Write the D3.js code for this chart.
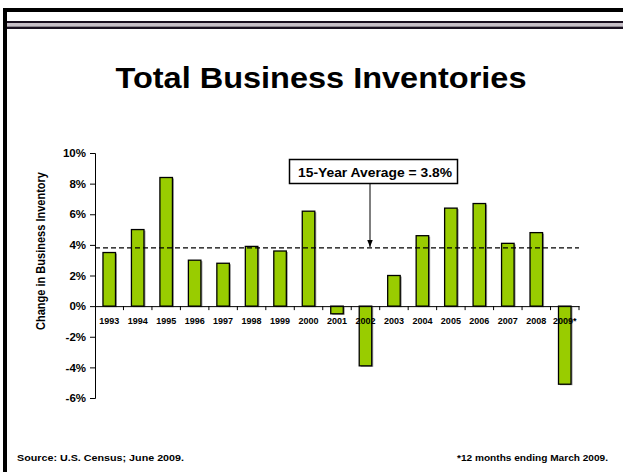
<!DOCTYPE html>
<html>
<head>
<meta charset="utf-8">
<script src="https://cdn.jsdelivr.net/npm/d3@7"></script>
<style>
  html, body { margin: 0; padding: 0; background: #fff; }
  svg { display: block; font-family: "Liberation Sans", Arial, sans-serif; }
</style>
</head>
<body>
<svg id="chart" width="623" height="472"></svg>
<script>
// Annual change in total business inventories, percent
const years = ["1993","1994","1995","1996","1997","1998","1999","2000","2001","2002","2003","2004","2005","2006","2007","2008","2009*"];
const changes = [3.5, 5.0, 8.4, 3.0, 2.8, 3.9, 3.6, 6.2, -0.5, -3.9, 2.0, 4.6, 6.4, 6.7, 4.1, 4.8, -5.1];
const yTicks = [-6, -4, -2, 0, 2, 4, 6, 8, 10];
const average = 3.8;
const averageLabel = "15-Year Average = 3.8%";

const svg = d3.select("#chart");
svg.append("rect").attr("width", 623).attr("height", 472).attr("fill", "#fff");

// slide frame: heavy rule on top and left, double rule beneath
svg.append("rect").attr("x", 3).attr("y", 8).attr("width", 620).attr("height", 4).attr("fill", "#000");
svg.append("rect").attr("x", 3).attr("y", 8).attr("width", 4).attr("height", 464).attr("fill", "#000");
svg.append("rect").attr("x", 7).attr("y", 21).attr("width", 616).attr("height", 2).attr("fill", "#1a1020");
svg.append("rect").attr("x", 7).attr("y", 23).attr("width", 616).attr("height", 3).attr("fill", "#c8c0c8");
svg.append("rect").attr("x", 7).attr("y", 26.5).attr("width", 616).attr("height", 2.5).attr("fill", "#1a1020");

svg.append("text")
  .attr("x", 321).attr("y", 88)
  .attr("text-anchor", "middle")
  .attr("font-size", 29.5).attr("font-weight", "bold")
  .attr("textLength", 411).attr("lengthAdjust", "spacingAndGlyphs")
  .attr("fill", "#000")
  .text("Total Business Inventories");

const x = d3.scaleBand().domain(years).range([95, 579]).paddingInner(0.56).paddingOuter(0.28);
const y = d3.scaleLinear().domain([-6, 10]).range([398, 153]);

// y axis
const yAxis = svg.append("g")
  .attr("transform", "translate(95,0)")
  .call(d3.axisLeft(y).tickValues(yTicks).tickSize(5).tickPadding(4).tickFormat(d => d + "%"));
yAxis.selectAll("text").attr("font-size", 11.5).attr("font-weight", "bold").attr("fill", "#000")
  .attr("font-family", "'Liberation Sans', Arial, sans-serif");
yAxis.selectAll("line, path").attr("stroke", "#000");

svg.append("text")
  .attr("transform", "translate(44.5,251) rotate(-90)")
  .attr("text-anchor", "middle")
  .attr("font-size", 12.5).attr("font-weight", "bold")
  .attr("textLength", 158).attr("lengthAdjust", "spacingAndGlyphs")
  .text("Change in Business Inventory");

// bars with a soft grey drop shadow
const bars = svg.append("g");
bars.selectAll("rect.shadow").data(years).join("rect")
  .attr("class", "shadow")
  .attr("x", d => x(d) + 1.5)
  .attr("y", (d, i) => Math.min(y(changes[i]), y(0)) + 1)
  .attr("width", x.bandwidth())
  .attr("height", (d, i) => Math.abs(y(changes[i]) - y(0)))
  .attr("fill", "#9a9a9a");
bars.selectAll("rect.bar").data(years).join("rect")
  .attr("class", "bar")
  .attr("x", d => x(d))
  .attr("y", (d, i) => Math.min(y(changes[i]), y(0)))
  .attr("width", x.bandwidth())
  .attr("height", (d, i) => Math.abs(y(changes[i]) - y(0)))
  .attr("fill", "#99cc00")
  .attr("stroke", "#000").attr("stroke-width", 1.3);

// x axis at zero with ticks between categories
const xAxis = svg.append("g")
  .attr("transform", `translate(0,${y(0)})`)
  .call(d3.axisBottom(x).tickSize(0).tickPadding(11));
xAxis.select("path").attr("stroke", "#000");
xAxis.selectAll("text").attr("font-size", 9).attr("font-weight", "bold").attr("fill", "#000")
  .attr("font-family", "'Liberation Sans', Arial, sans-serif");
const step = x.step();
xAxis.selectAll("line.sep").data(years).join("line")
  .attr("class", "sep")
  .attr("x1", d => x(d) + x.bandwidth() / 2 + step / 2)
  .attr("x2", d => x(d) + x.bandwidth() / 2 + step / 2)
  .attr("y1", 0).attr("y2", 4)
  .attr("stroke", "#000");

// average reference line
svg.append("line")
  .attr("x1", 95).attr("x2", 579)
  .attr("y1", y(average)).attr("y2", y(average))
  .attr("stroke", "#000").attr("stroke-width", 1.3)
  .attr("stroke-dasharray", "5,3");

// callout box and arrow
svg.append("defs").append("marker")
  .attr("id", "head").attr("viewBox", "0 0 10 10")
  .attr("refX", 10).attr("refY", 5)
  .attr("markerWidth", 7).attr("markerHeight", 7)
  .attr("orient", "auto")
  .append("path").attr("d", "M0,1 L10,5 L0,9 Z").attr("fill", "#000");
svg.append("line")
  .attr("x1", 370).attr("x2", 370)
  .attr("y1", 183).attr("y2", y(average) - 1)
  .attr("stroke", "#000").attr("stroke-width", 1)
  .attr("marker-end", "url(#head)");
svg.append("rect")
  .attr("x", 289.5).attr("y", 159.5).attr("width", 168).attr("height", 24)
  .attr("fill", "#fff").attr("stroke", "#000").attr("stroke-width", 1.5);
svg.append("text")
  .attr("x", 375).attr("y", 176.5)
  .attr("text-anchor", "middle")
  .attr("font-size", 13.5).attr("font-weight", "bold")
  .attr("textLength", 154).attr("lengthAdjust", "spacingAndGlyphs")
  .text(averageLabel);

// footnotes
svg.append("text")
  .attr("x", 17).attr("y", 461)
  .attr("font-size", 9.5).attr("font-weight", "bold")
  .attr("textLength", 167).attr("lengthAdjust", "spacingAndGlyphs")
  .text("Source: U.S. Census; June 2009.");
svg.append("text")
  .attr("x", 457).attr("y", 461)
  .attr("font-size", 9.5).attr("font-weight", "bold")
  .attr("textLength", 151).attr("lengthAdjust", "spacingAndGlyphs")
  .text("*12 months ending March 2009.");
</script>
</body>
</html>
